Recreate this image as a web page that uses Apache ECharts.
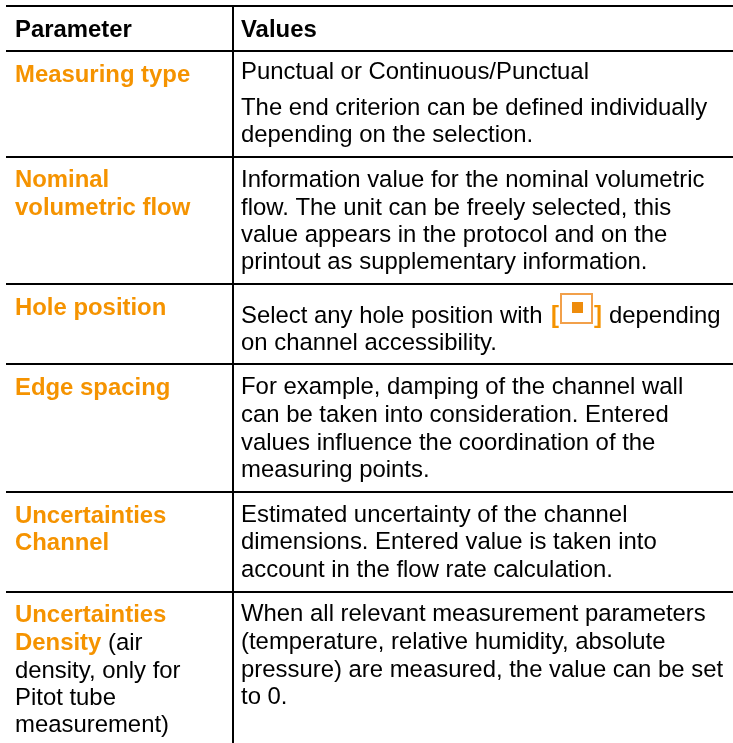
<!DOCTYPE html>
<html><head><meta charset="utf-8">
<style>html,body{margin:0;padding:0;background:#fff}#c{width:733px;height:743px}</style>
<script src="https://cdn.jsdelivr.net/npm/echarts@6/dist/echarts.min.js"></script>
</head><body><div id="c"></div>
<script>
const headers = ["Parameter", "Values"];
const parameters = [
  [[["Measuring type",1]]],
  [[["Nominal",1]],[["volumetric flow",1]]],
  [[["Hole position",1]]],
  [[["Edge spacing",1]]],
  [[["Uncertainties",1]],[["Channel",1]]],
  [[["Uncertainties",1]],[["Density",1],[" (air",0]],[["density, only for",0]],[["Pitot tube",0]],[["measurement)",0]]]
];
const values = [
  ["Punctual or Continuous/Punctual","The end criterion can be defined individually","depending on the selection."],
  ["Information value for the nominal volumetric","flow. The unit can be freely selected, this","value appears in the protocol and on the","printout as supplementary information."],
  ["Select any hole position with","on channel accessibility."],
  ["For example, damping of the channel wall","can be taken into consideration. Entered","values influence the coordination of the","measuring points."],
  ["Estimated uncertainty of the channel","dimensions. Entered value is taken into","account in the flow rate calculation."],
  ["When all relevant measurement parameters","(temperature, relative humidity, absolute","pressure) are measured, the value can be set","to 0."]
];
const ORANGE="#f59300", FAMILY='Liberation Sans', FS=23.9;
const rowLines=[6,51,157,284,364,492,592];
const paramBase=[[82],[187,215],[315],[395],[523,550],[622,650,678,705,732]];
const valueBase=[[79,115,142],[187,215,242,269],[323,350],[394,422,450,477],[522,549,577],[621,649,677,704]];
const g=[];
const line=(x1,y1,x2,y2)=>g.push({type:'line',shape:{x1,y1,x2,y2},style:{stroke:'#000',lineWidth:2}});
rowLines.forEach(y=>line(6,y,733,y));
line(233,6,233,743);
const txt=(x,base,t,c,b)=>g.push({type:'text',x,y:Math.round(base-0.3465*FS)+1,style:{text:t,fill:c,fontFamily:FAMILY,fontSize:FS,fontWeight:b?'bold':'normal',verticalAlign:'middle',textAlign:'left'}});
const meas=document.createElement('canvas').getContext('2d');
const w=(t,b)=>{meas.font=(b?'bold ':'')+FS+'px "'+FAMILY+'"';return meas.measureText(t).width;};
txt(15,37,headers[0],'#000',true);txt(241,37,headers[1],'#000',true);
parameters.forEach((rows,i)=>rows.forEach((runs,j)=>{let x=15;runs.forEach(([t,o])=>{txt(x,paramBase[i][j],t,o?ORANGE:'#000',!!o);x+=w(t,!!o);});}));
values.forEach((rows,i)=>rows.forEach((t,j)=>txt(241,valueBase[i][j],t,'#000',false)));
txt(551,323,'[',ORANGE,true);txt(594,323,']',ORANGE,true);txt(609,323,'depending','#000',false);
g.push({type:'rect',shape:{x:561,y:294,width:31,height:29},style:{fill:'#fff',stroke:'#f2a04a',lineWidth:2}});
g.push({type:'rect',shape:{x:572,y:302,width:11,height:11},style:{fill:'#ee8c0c'}});
const chart=echarts.init(document.getElementById('c'),null,{renderer:'canvas'});
chart.setOption({animation:false,graphic:{elements:g}});
</script></body></html>
